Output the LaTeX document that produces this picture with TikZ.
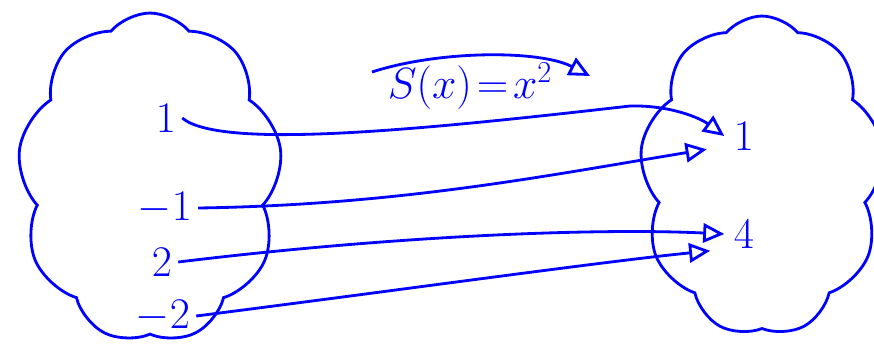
\documentclass[tikz,border=0pt]{standalone}
\usepackage{tikz}
\usetikzlibrary{shapes.symbols, arrows.meta, positioning}

\begin{document}
\begin{tikzpicture}[x=0.02cm, y=-0.02cm, >={Triangle[open, length=12pt, width=11pt]},
		ink/.style={draw=blue, line width=1.6pt},
		num/.style={text=blue, font=\fontsize{26}{28}\selectfont},
		set/.style={ink, cloud, cloud puffs=9, cloud puff arc=100}]
				\useasboundingbox (0,0) rectangle (874,349);
				\node[set, minimum width=5.3cm, minimum height=6.6cm, aspect=0.8] (dom) at (150,178) {};
				\node[set, minimum width=4.9cm, minimum height=6.4cm, aspect=0.77] (cod) at (762,176) {};
				
				\node[num] (a1) at (166,118) {$1$};
				\node[num] (a2) at (165,208) {$-1$};
				\node[num] (a3) at (162,262) {$2$};
				\node[num] (a4) at (163,316) {$-2$};
				\node[num] (b1) at (744,136) {$1$};
				\node[num] (b4) at (744,234) {$4$};
				\node[num] (fn) at (470,86) {$S(x)\!=\!x^2$};
				
				\coordinate (s0) at (372,72);
				\coordinate (s1) at (590,76);
				\draw[->, ink] (s0) .. controls (440,50) and (540,50) .. (s1);
				
				\draw[->, ink] (a1.east) .. controls (220,150) and (420,130) .. (630,106) .. controls (670,105) and (700,118) .. ([xshift=-2pt]b1.west);
				\draw[->, ink] (a2.east) .. controls (400,205) and (550,175) .. ([xshift=-12pt,yshift=4pt]b1.south west);
				\draw[->, ink] (a3.east) .. controls (400,235) and (600,228) .. ([xshift=-2pt]b4.west);
				\draw[->, ink] (a4.east) .. controls (400,290) and (600,262) .. ([xshift=-10pt,yshift=2pt]b4.south west);
			\end{tikzpicture}
\end{document}
